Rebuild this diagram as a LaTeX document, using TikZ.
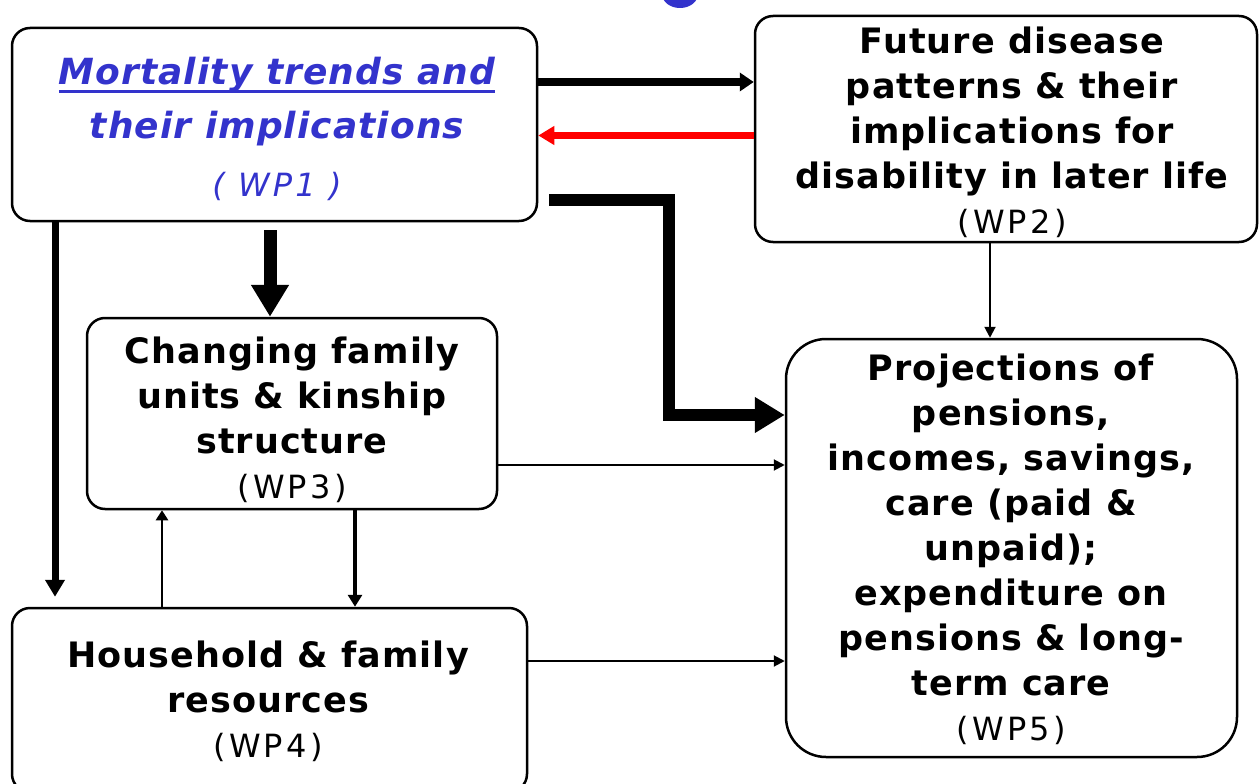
\documentclass[tikz,border=0pt]{standalone}
\usepackage{fontspec}
\setmainfont{DejaVu Sans}
\newfontfamily\bsp{DejaVu Sans}[LetterSpace=3]
\newfontfamily\thinf{DejaVu Sans}[LetterSpace=10]
\usetikzlibrary{arrows.meta}
\definecolor{wpblue}{RGB}{51,51,204}
\definecolor{wpred}{RGB}{255,0,0}
\newcommand\myul[1]{\leavevmode\setbox0=\hbox{#1}\rlap{\rule[-8pt]{\wd0}{3pt}}\box0}
\newcommand\wplab[1]{{\thinf\mdseries\upshape\fontsize{32}{45}\selectfont(#1)}}
\begin{document}
\begin{tikzpicture}[x=1pt,y=-1pt,line join=miter,
  box/.style={draw=black, line width=2.5pt, inner sep=0pt, rounded corners=18pt},
  btxt/.style={align=center, inner sep=0pt, font=\bsp\bfseries\fontsize{35}{45}\selectfont},
  thin/.style={line width=2pt, -{Triangle[length=11pt,width=11pt]}}]
\useasboundingbox (0,0) rectangle (1259,784);
% partial blue blob at the top
\fill[wpblue] (680,-6) ellipse [x radius=18pt, y radius=14pt];
% boxes
\node[box, minimum width=525pt, minimum height=193pt] (wp1) at (274.5,124.5) {};
\node[box, minimum width=502pt, minimum height=226pt] (wp2) at (1006,129) {};
\node[box, minimum width=410pt, minimum height=191pt] (wp3) at (292,413.5) {};
\node[box, minimum width=515pt, minimum height=184pt] (wp4) at (269.5,700) {};
\node[box, rounded corners=40pt, minimum width=451pt, minimum height=418pt] (wp5) at (1011.5,548) {};
% texts
\node[btxt, text=wpblue, font=\bsp\bfseries\itshape\fontsize{36}{54}\selectfont] (t1) at (277,129)
  {\myul{Mortality trends and}\\their implications\\[4pt]{\thinf\mdseries\itshape\fontsize{32}{45}\selectfont( WP1 )}};
\node[btxt] (t2) at (1012,132)
  {Future disease\\patterns \& their\\implications for\\disability in later life\\\wplab{WP2}};
\node[btxt] (t3) at (292,420)
  {Changing family\\units \& kinship\\structure\\\wplab{WP3}};
\node[btxt] (t4) at (268,701.5)
  {Household \& family\\resources\\\wplab{WP4}};
\node[btxt] (t5) at (1011,549.5)
  {Projections of\\pensions,\\incomes, savings,\\care (paid \&\\unpaid);\\expenditure on\\pensions \& long-\\term care\\\wplab{WP5}};
% connectors
\coordinate (bend) at (669,300);
\draw[line width=8pt, -{Triangle[length=14pt,width=18pt]}] (wp1.east |- 0,82) -- (wp2.west |- 0,82);
\draw[wpred, line width=7pt, -{Triangle[length=16pt,width=18pt]}] (wp2.west |- 0,135.5) -- (wp1.east |- 0,135.5);
\draw[line width=12pt, -{Triangle[length=30pt,width=34pt]}, shorten <=11pt] (wp1.east |- 0,200) -| (bend) |- (wp5.west |- 0,415);
\draw[line width=13pt, -{Triangle[length=32pt,width=36pt]}, shorten <=8pt] (wp1.south -| 270,0) -- (wp3.north -| 270,0);
\draw[line width=7pt, -{Triangle[length=17pt,width=19pt]}, shorten >=10pt] (wp1.south -| 55,0) -- (wp4.north -| 55,0);
\draw[line width=4pt, -{Triangle[length=12pt,width=14pt]}] (wp3.south -| 355,0) -- (wp4.north -| 355,0);
\draw[line width=2.5pt, -{Triangle[length=10pt,width=12pt]}] (wp4.north -| 162,0) -- (wp3.south -| 162,0);
\draw[thin] (wp2.south -| 990,0) -- (wp5.north -| 990,0);
\draw[thin] (wp3.east |- 0,465) -- (wp5.west |- 0,465);
\draw[thin] (wp4.east |- 0,661) -- (wp5.west |- 0,661);
\end{tikzpicture}
\end{document}
